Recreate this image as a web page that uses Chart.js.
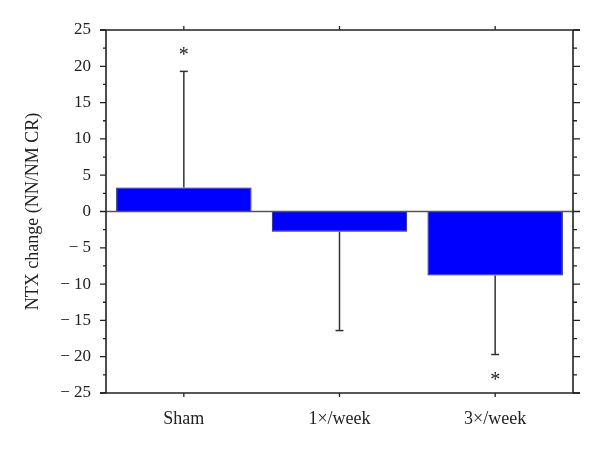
<!DOCTYPE html>
<html>
<head>
<meta charset="utf-8">
<script src="https://cdn.jsdelivr.net/npm/chart.js@4"></script>
<style>
html,body{margin:0;padding:0;background:#fff;}
#wrap{width:600px;height:460px;}
</style>
</head>
<body>
<div id="wrap"><canvas id="c" width="600" height="460"></canvas></div>
<script>
const categories = ['Sham', '1×/week', '3×/week'];
const means = [3.3, -2.8, -8.8];
const errorEnds = [19.3, -16.4, -19.7];
const sigMarks = [22.2, null, -22.6];
const yTicks = [-25, -20, -15, -10, -5, 0, 5, 10, 15, 20, 25];
const yTitle = 'NTX change (NN/NM CR)';

const FONT = '"Liberation Serif", "DejaVu Serif", serif';

const framePlugin = {
  id: 'frame',
  afterDatasetsDraw(chart) {
    const ctx = chart.ctx;
    const x = chart.scales.x, y = chart.scales.y;
    const a = chart.chartArea;
    ctx.save();
    // zero line
    ctx.strokeStyle = '#555';
    ctx.lineWidth = 1.5;
    const y0 = y.getPixelForValue(0);
    ctx.beginPath(); ctx.moveTo(a.left, y0); ctx.lineTo(a.right, y0); ctx.stroke();
    // error bars
    ctx.strokeStyle = '#333';
    ctx.lineWidth = 1.5;
    categories.forEach((c, i) => {
      const cx = x.getPixelForValue(i);
      const ym = y.getPixelForValue(means[i]);
      const ye = y.getPixelForValue(errorEnds[i]);
      ctx.beginPath(); ctx.moveTo(cx, ym); ctx.lineTo(cx, ye); ctx.stroke();
      ctx.beginPath(); ctx.moveTo(cx - 4, ye); ctx.lineTo(cx + 4, ye); ctx.stroke();
    });
    // asterisks
    ctx.fillStyle = '#222';
    ctx.font = '20px ' + FONT;
    ctx.textAlign = 'center';
    ctx.textBaseline = 'middle';
    sigMarks.forEach((v, i) => {
      if (v === null) return;
      ctx.fillText('*', x.getPixelForValue(i), y.getPixelForValue(v) + 5);
    });
    // frame
    ctx.strokeStyle = '#222';
    ctx.lineWidth = 1.6;
    const top = y.getPixelForValue(25), bot = y.getPixelForValue(-25);
    ctx.beginPath();
    ctx.moveTo(a.left, top); ctx.lineTo(a.left, bot);
    ctx.moveTo(a.right, top); ctx.lineTo(a.right, bot);
    ctx.moveTo(a.left - 6, top); ctx.lineTo(a.right + 7, top);
    ctx.moveTo(a.left - 6, bot); ctx.lineTo(a.right + 7, bot);
    ctx.stroke();
    ctx.lineWidth = 1.3;
    ctx.beginPath();
    // left & right ticks (major + minor)
    for (let v = -25; v <= 25; v += 2.5) {
      const py = y.getPixelForValue(v);
      const major = Math.abs(v % 5) < 1e-9;
      ctx.moveTo(a.left, py); ctx.lineTo(a.left - (major ? 6 : 3), py);
      ctx.moveTo(a.right, py); ctx.lineTo(a.right + (major ? 7 : 4), py);
    }
    // top & bottom category ticks
    categories.forEach((c, i) => {
      const cx = x.getPixelForValue(i);
      ctx.moveTo(cx, top); ctx.lineTo(cx, top - 4);
      ctx.moveTo(cx, bot); ctx.lineTo(cx, bot + 4);
    });
    ctx.stroke();
    ctx.restore();
  }
};

new Chart(document.getElementById('c'), {
  type: 'bar',
  data: {
    labels: categories,
    datasets: [{
      data: means,
      backgroundColor: '#0000ff',
      borderColor: '#1a1a66',
      borderWidth: 1,
      barPercentage: 0.87,
      categoryPercentage: 1.0
    }]
  },
  options: {
    responsive: false,
    animation: false,
    layout: { padding: { left: 0, right: 27, top: 30, bottom: 0 } },
    plugins: { legend: { display: false }, tooltip: { enabled: false } },
    scales: {
      x: {
        grid: { display: false, drawTicks: false },
        border: { display: false },
        ticks: { color: '#222', font: { family: FONT, size: 18 }, padding: 15, maxRotation: 0 },
        afterFit(s) { s.height = 67; }
      },
      y: {
        min: -25, max: 25,
        afterBuildTicks(s) { s.ticks = yTicks.map(v => ({ value: v })); },
        grid: { display: false, drawTicks: false },
        border: { display: false },
        ticks: {
          color: '#222', font: { family: FONT, size: 17 }, padding: 15,
          callback: v => v < 0 ? '\u2212 ' + Math.abs(v) : String(v)
        },
        title: {
          display: true, text: yTitle, color: '#222',
          font: { family: FONT, size: 18 }, padding: { top: 22, bottom: 0 }
        },
        afterFit(s) { s.width = 106; }
      }
    }
  },
  plugins: [framePlugin]
});
</script>
</body>
</html>
